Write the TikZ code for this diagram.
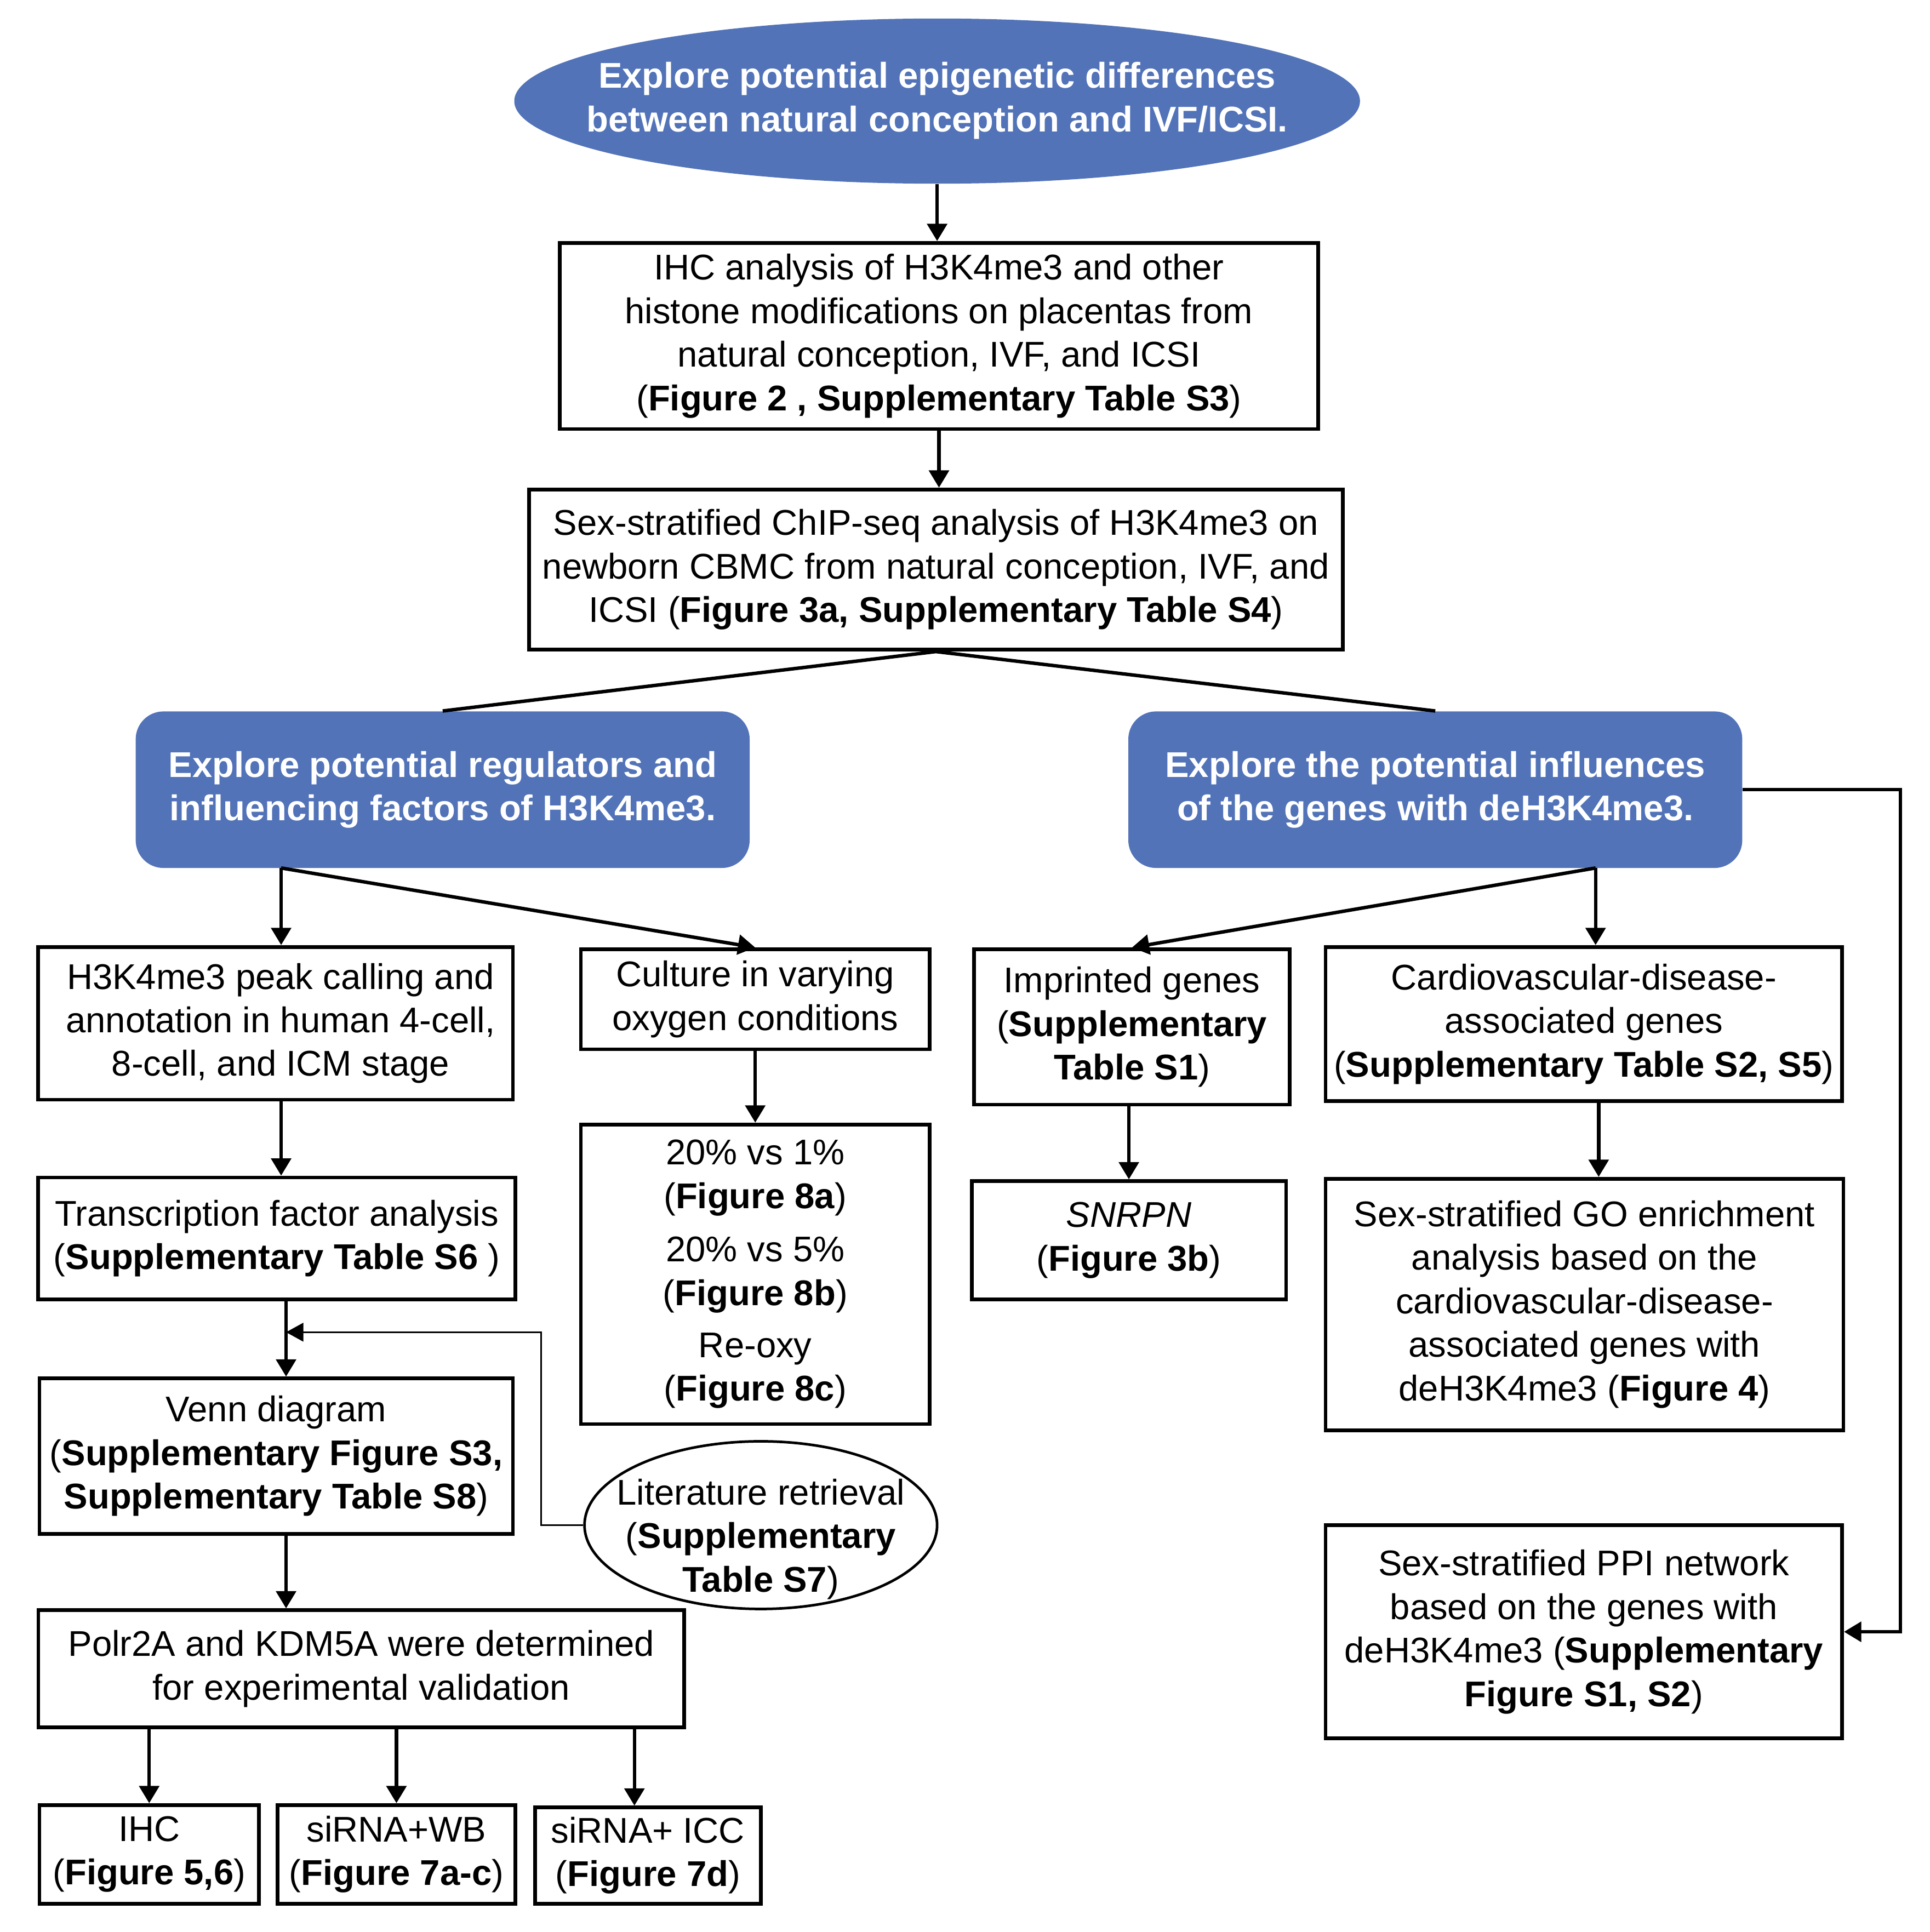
\documentclass[tikz,border=0pt]{standalone}
\usepackage{fontspec}
\setmainfont{Liberation Sans}
\usetikzlibrary{arrows.meta,calc,shapes.geometric}
\definecolor{bluefill}{RGB}{82,115,184}
\begin{document}
\begin{tikzpicture}[x=0.02cm,y=-0.02cm,
  font=\fontsize{16.5}{20.1}\selectfont,
  box/.style={draw, line width=1.7pt, inner sep=0pt, align=center},
  bluebox/.style={fill=bluefill, draw=none, rounded corners=0.45cm, inner sep=0pt, align=center, text=white, font=\fontsize{16.5}{20.1}\selectfont\bfseries},
  conn/.style={line width=1.6pt, -{Triangle[length=0.28cm,width=0.32cm]}},
  plainline/.style={line width=1.6pt},
  thinconn/.style={line width=0.85pt, -{Triangle[length=0.28cm,width=0.3cm]}}
]
\useasboundingbox (0,0) rectangle (1565,1567);

% top ellipse
\node[ellipse, fill=bluefill, draw=none, inner sep=0pt, minimum width=13.72cm, minimum height=2.68cm, text=white, font=\fontsize{16.5}{20.1}\selectfont\bfseries] (top) at (760,82)
  {\raisebox{2pt}{\makebox[0pt]{\begin{tabular}{@{}c@{}}Explore potential epigenetic differences\\between natural conception and IVF/ICSI.\end{tabular}}}};

\node[box, minimum width=12.3cm, minimum height=3.02cm] (b1) at (761.5,272.5)
  {IHC analysis of H3K4me3 and other\\histone modifications on placentas from\\natural conception, IVF, and ICSI\\(\textbf{Figure 2 , Supplementary Table S3})};

\node[box, minimum width=13.2cm, minimum height=2.6cm] (b2) at (759,462)
  {Sex-stratified ChIP-seq analysis of H3K4me3 on\\newborn CBMC from natural conception, IVF, and\\ICSI (\textbf{Figure 3a, Supplementary Table S4})};

\node[bluebox, minimum width=9.96cm, minimum height=2.54cm] (bL) at (359,640.5)
  {Explore potential regulators and\\influencing factors of H3K4me3.};
\node[bluebox, minimum width=9.96cm, minimum height=2.54cm] (bR) at (1164,640.5)
  {Explore the potential influences\\of the genes with deH3K4me3.};

% left branch
\node[box, minimum width=7.7cm, minimum height=2.48cm] (peak) at (223.5,830)
  {\hspace*{0.16cm}H3K4me3 peak calling and\\\hspace*{0.16cm}annotation in human 4-cell,\\\hspace*{0.16cm}8-cell, and ICM stage};
\node[box, minimum width=5.66cm, minimum height=1.62cm] (culture) at (612.5,810.5)
  {Culture in varying\\oxygen conditions};
\node[box, minimum width=5.66cm, minimum height=4.86cm] (pct) at (612.5,1033.5)
  {20\% vs 1\%\\(\textbf{Figure 8a})\\[0.16cm]20\% vs 5\%\\(\textbf{Figure 8b})\\[0.14cm]Re-oxy\\(\textbf{Figure 8c})};
\node[box, minimum width=7.74cm, minimum height=1.98cm] (tf) at (224.5,1004.5)
  {Transcription factor analysis\\(\textbf{Supplementary Table S6} )};
\node[box, minimum width=7.68cm, minimum height=2.52cm] (venn) at (224,1181)
  {Venn diagram\\(\textbf{Supplementary Figure S3,}\\\textbf{Supplementary Table S8})};
\node[ellipse, draw, line width=1.2pt, inner sep=0pt, minimum width=5.72cm, minimum height=2.72cm] (lit) at (617,1237)
  {\raisebox{-11pt}[0pt][0pt]{\makebox[0pt]{\begin{tabular}{@{}c@{}}Literature retrieval\\(\textbf{Supplementary}\\\textbf{Table S7})\end{tabular}}}};
\node[box, minimum width=10.48cm, minimum height=1.9cm] (polr) at (293,1353.5)
  {Polr2A and KDM5A were determined\\for experimental validation};
\node[box, minimum width=3.56cm, minimum height=1.6cm] (ihc) at (121,1504)
  {IHC\\(\textbf{Figure 5,6})};
\node[box, minimum width=3.86cm, minimum height=1.6cm] (wb) at (321.5,1504)
  {siRNA+WB\\(\textbf{Figure 7a-c})};
\node[box, minimum width=3.66cm, minimum height=1.56cm] (icc) at (525.5,1505)
  {siRNA+ ICC\\(\textbf{Figure 7d})};

% right branch
\node[box, minimum width=5.12cm, minimum height=2.52cm] (imp) at (918,833)
  {Imprinted genes\\(\textbf{Supplementary}\\\textbf{Table S1})};
\node[box, minimum width=8.38cm, minimum height=2.5cm] (cardio) at (1284.5,830.5)
  {Cardiovascular-disease-\\associated genes\\(\textbf{Supplementary Table S2, S5})};
\node[box, minimum width=5.1cm, minimum height=1.92cm] (snrpn) at (915.5,1006)
  {\textit{SNRPN}\\(\textbf{Figure 3b})};
\node[box, minimum width=8.4cm, minimum height=4.08cm] (go) at (1285,1058)
  {Sex-stratified GO enrichment\\analysis based on the\\cardiovascular-disease-\\associated genes with\\deH3K4me3 (\textbf{Figure 4})};
\node[box, minimum width=8.38cm, minimum height=3.46cm] (ppi) at (1284.5,1323.5)
  {Sex-stratified PPI network\\based on the genes with\\deH3K4me3 (\textbf{Supplementary}\\\textbf{Figure S1, S2})};

% connector points
\coordinate (bLs) at (228,704);
\coordinate (bRs) at (1294,704);
\coordinate (tfs) at ($(tf.south)+(7.5,0)$);
\coordinate (venns) at ($(venn.south)+(8,0)$);
\coordinate (join) at ($(tfs)!0.41!(tfs |- venn.north)$);
\coordinate (iccn) at ($(icc.north)+(-11,0)$);
\coordinate (cgo) at ($(cardio.south)+(12,0)$);

% connectors
\draw[conn] (top.south) -- (top.south |- b1.north);
\draw[conn] (b1.south) -- (b1.south |- b2.north);
\draw[plainline] (b2.south) -- (bL.north);
\draw[plainline] (b2.south) -- (bR.north);

\draw[conn] (bLs) -- (bLs |- peak.north);
\draw[conn] (bLs) -- (culture.north);
\draw[conn] (culture.south) -- (pct.north);
\draw[conn] (bLs |- peak.south) -- (bLs |- tf.north);
\draw[conn] (tfs) -- (tfs |- venn.north);
\draw[conn] (venns) -- (venns |- polr.north);
\draw[thinconn] (lit.west) -- ++(-34,0) |- (join);
\draw[conn] (ihc.north |- polr.south) -- (ihc.north);
\draw[conn] (wb.north |- polr.south) -- (wb.north);
\draw[conn] (iccn |- polr.south) -- (iccn);

\draw[conn] (bRs) -- (imp.north);
\draw[conn] (bRs) -- (bRs |- cardio.north);
\draw[conn] (snrpn.north |- imp.south) -- (snrpn.north);
\draw[conn] (cgo) -- (cgo |- go.north);
\draw[conn] (bR.east) -- ++(128,0) |- (ppi.east);
\end{tikzpicture}
\end{document}
